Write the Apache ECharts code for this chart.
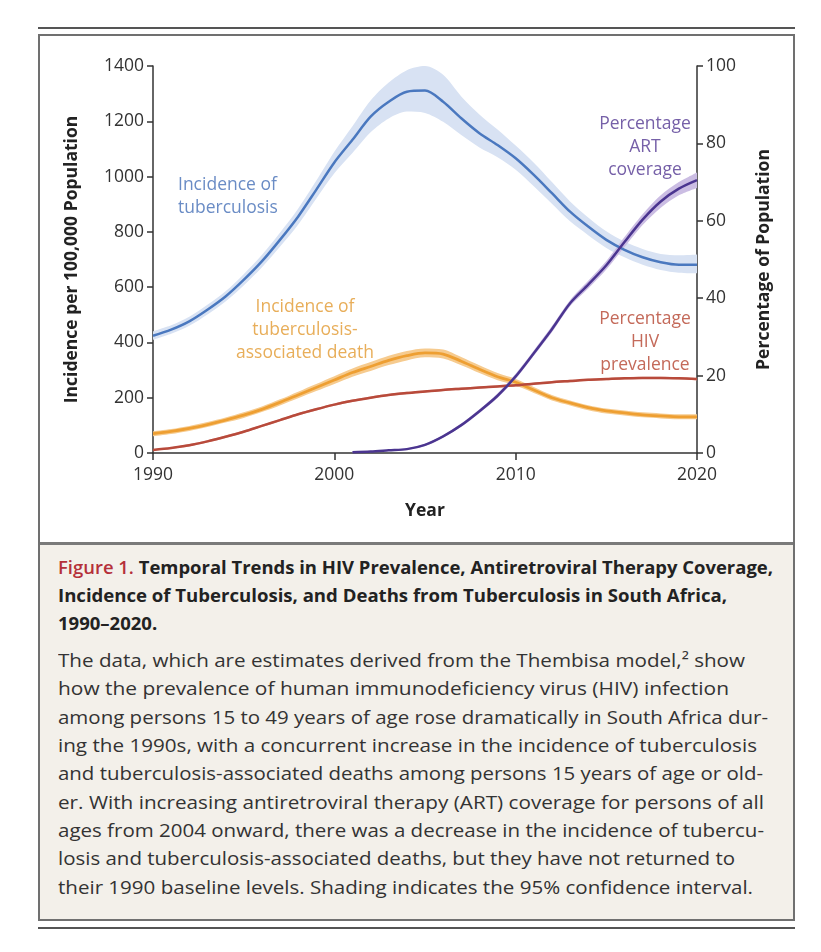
<!DOCTYPE html>
<html>
<head>
<meta charset="utf-8">
<script src="https://cdn.jsdelivr.net/npm/echarts/dist/echarts.min.js"></script>
<style>
  html, body { margin:0; padding:0; background:#fff; width:821px; height:952px; overflow:hidden; }
  .abs { position:absolute; }
  .capline { position:absolute; left:58px; white-space:nowrap; transform-origin:0 50%; font-family:"Open Sans","Noto Sans",sans-serif; }
  .title { font-size:18.5px; font-weight:700; color:#222; line-height:28px; }
  .title .fig { color:#b5303a; font-weight:600; }
  .body { font-size:18.5px; color:#333; line-height:28px; }
</style>
</head>
<body>
<div class="abs" style="left:38px;top:27px;width:757px;height:2px;background:#555;"></div>
<div class="abs" style="left:38px;top:34px;width:757px;height:887px;border:2px solid #707070;box-sizing:border-box;background:#fff;"></div>
<div class="abs" style="left:40px;top:542px;width:753px;height:377px;background:#f3f0ea;border-top:3px solid #7a7a7a;box-sizing:border-box;"></div>
<div class="abs" style="left:38px;top:927px;width:757px;height:2px;background:#555;"></div>
<div id="chart" class="abs" style="left:0;top:0;width:821px;height:543px;"></div>
<div id="caption"></div>
<script>
// ---------------- data ----------------
const years = ['1990','1991','1992','1993','1994','1995','1996','1997','1998','1999',
  '2000','2001','2002','2003','2004','2005','2006','2007','2008','2009',
  '2010','2011','2012','2013','2014','2015','2016','2017','2018','2019','2020'];

// Incidence of tuberculosis per 100,000 (left axis)
const tbIncidence = [424,446,476,518,566,626,693,771,855,952,1051,1133,1217,1271,1307,1311,1271,1211,1157,1114,1066,1006,940,873,819,771,735,708,690,681,681];
const tbUpper = [440,462,493,536,585,647,716,797,884,985,1090,1182,1275,1340,1385,1400,1368,1290,1225,1170,1112,1050,980,910,852,802,765,738,720,715,718];
const tbLower = [409,431,460,501,548,606,671,746,826,920,1012,1085,1160,1210,1235,1230,1198,1150,1105,1070,1025,965,902,838,788,742,708,681,662,652,650];

// Incidence of tuberculosis-associated death per 100,000 (left axis)
const tbDeath = [70,78,89,103,119,137,158,183,210,237,264,291,313,335,352,362,358,332,303,276,256,228,200,181,164,152,145,138,134,131,131];
const tbDeathUpper = [79,87,98,112,128,147,168,194,222,250,278,306,329,352,369,378,374,347,317,289,268,239,210,190,173,161,154,147,143,140,140];
const tbDeathLower = [61,69,80,94,110,127,148,172,198,224,250,276,297,318,335,346,342,317,289,263,244,217,190,172,155,143,136,129,125,122,122];

// Percentage HIV prevalence (right axis)
const hivPrev = [0.8,1.3,2.0,3.0,4.2,5.5,7.0,8.5,10.0,11.3,12.5,13.5,14.3,15.0,15.5,15.9,16.3,16.6,16.9,17.2,17.5,17.9,18.3,18.6,18.9,19.1,19.3,19.4,19.4,19.3,19.1];
const hivUpper = [1.0,1.5,2.3,3.3,4.5,5.8,7.3,8.8,10.3,11.6,12.8,13.8,14.6,15.3,15.8,16.2,16.6,16.9,17.2,17.5,17.8,18.2,18.6,18.9,19.2,19.4,19.6,19.7,19.7,19.6,19.4];
const hivLower = [0.6,1.1,1.7,2.7,3.9,5.2,6.7,8.2,9.7,11.0,12.2,13.2,14.0,14.7,15.2,15.6,16.0,16.3,16.6,16.9,17.2,17.6,18.0,18.3,18.6,18.8,19.0,19.1,19.1,19.0,18.8];

// Percentage ART coverage (right axis), from 2001
const artCov = ['-','-','-','-','-','-','-','-','-','-','-',0.2,0.4,0.7,1.0,2.1,4.3,7.2,10.8,14.8,19.8,25.8,32.0,38.7,43.5,48.5,54.5,60.3,65.0,68.3,70.5];
const artUpper = ['-','-','-','-','-','-','-','-','-','-','-',0.3,0.5,0.8,1.2,2.4,4.6,7.6,11.3,15.4,20.5,26.5,32.8,39.5,44.5,49.6,55.8,61.7,66.6,70.0,72.5];
const artLower = ['-','-','-','-','-','-','-','-','-','-','-',0.1,0.3,0.6,0.8,1.8,4.0,6.8,10.3,14.2,19.1,25.1,31.2,37.9,42.5,47.4,53.2,58.9,63.4,66.6,68.5];

const leftTicks = [0,200,400,600,800,1000,1200,1400];
const rightTicks = [0,20,40,60,80,100];
const xTickYears = ['1990','2000','2010','2020'];

const captionTitle = [
  ['Figure 1.', ' Temporal Trends in HIV Prevalence, Antiretroviral Therapy Coverage,'],
  ['', 'Incidence of Tuberculosis, and Deaths from Tuberculosis in South Africa,'],
  ['', '1990\u20132020.']
];
const captionBody = [
  'The data, which are estimates derived from the Thembisa model,\u00b2 show',
  'how the prevalence of human immunodeficiency virus (HIV) infection',
  'among persons 15 to 49 years of age rose dramatically in South Africa dur-',
  'ing the 1990s, with a concurrent increase in the incidence of tuberculosis',
  'and tuberculosis-associated deaths among persons 15 years of age or old-',
  'er. With increasing antiretroviral therapy (ART) coverage for persons of all',
  'ages from 2004 onward, there was a decrease in the incidence of tubercu-',
  'losis and tuberculosis-associated deaths, but they have not returned to',
  'their 1990 baseline levels. Shading indicates the 95% confidence interval.'
];

// ---------------- caption layout ----------------
const titleCenters = [567, 595, 623];
const titleEnds = [773, 727, null];
const bodyCenters = [660, 688, 717, 745, 773, 802, 830, 858, 887];
const bodyEnds = [745, 729, 768, 757, 763, 764, 764, 735, 753];
const cap = document.getElementById('caption');
const titleEls = captionTitle.map((t, i) => {
  const d = document.createElement('div');
  d.className = 'capline title';
  d.style.top = (titleCenters[i] - 14) + 'px';
  if (t[0]) { const s = document.createElement('span'); s.className = 'fig'; s.textContent = t[0]; d.appendChild(s); }
  d.appendChild(document.createTextNode(t[1]));
  cap.appendChild(d);
  return d;
});
const bodyEls = captionBody.map((t, i) => {
  const d = document.createElement('div');
  d.className = 'capline body';
  d.style.top = (bodyCenters[i] - 14) + 'px';
  d.textContent = t;
  cap.appendChild(d);
  return d;
});
function fitCaption() {
  const scales = [];
  titleEls.forEach((el, i) => {
    if (titleEnds[i]) {
      const s = (titleEnds[i] - 58) / el.getBoundingClientRect().width;
      scales.push(s);
      el.style.transform = 'scaleX(' + s + ')';
    }
  });
  const avg = scales.reduce((a, b) => a + b, 0) / scales.length;
  titleEls.forEach((el, i) => { if (!titleEnds[i]) el.style.transform = 'scaleX(' + avg + ')'; });
  bodyEls.forEach((el, i) => {
    const s = (bodyEnds[i] - 58) / el.getBoundingClientRect().width;
    el.style.transform = 'scaleX(' + s + ')';
  });
}
fitCaption();
if (document.fonts && document.fonts.ready) document.fonts.ready.then(() => {
  titleEls.concat(bodyEls).forEach(el => el.style.transform = 'none');
  fitCaption();
});

// ---------------- chart ----------------
const FONT = '"Open Sans","Noto Sans",sans-serif';
const chart = echarts.init(document.getElementById('chart'), null, { renderer: 'canvas' });
const diff = (u, l) => u.map((v, i) => (v === '-' || l[i] === '-') ? '-' : +(v - l[i]).toFixed(2));

function band(name, lower, upper, yIdx, color, stack) {
  return [
    { name: name + ' lower', type: 'line', yAxisIndex: yIdx, stack: stack, data: lower, smooth: 0.3,
      symbol: 'none', lineStyle: { width: 0, opacity: 0 }, silent: true },
    { name: name + ' band', type: 'line', yAxisIndex: yIdx, stack: stack, data: diff(upper, lower), smooth: 0.3,
      symbol: 'none', lineStyle: { width: 0, opacity: 0 }, areaStyle: { color: color, opacity: 1 }, silent: true }
  ];
}
function line(name, data, yIdx, color, w) {
  return { name: name, type: 'line', yAxisIndex: yIdx, data: data, smooth: 0.3, symbol: 'none',
    lineStyle: { color: color, width: w }, silent: true };
}
const axisCommon = {
  axisLine: { show: true, lineStyle: { color: '#333', width: 1.5 } },
  axisTick: { show: true, length: 6, lineStyle: { color: '#333', width: 1.5 } },
  splitLine: { show: false }
};
const labelStyle = (color, align) => ({ fill: color, font: '17.5px ' + FONT, textAlign: align, textVerticalAlign: 'top', lineHeight: 23 });

chart.setOption({
  animation: false,
  backgroundColor: 'transparent',
  grid: { left: 153, right: 124, top: 66, bottom: 90 },
  xAxis: {
    type: 'category', data: years, boundaryGap: false,
    name: 'Year', nameLocation: 'middle', nameGap: 49,
    nameTextStyle: { fontSize: 17.5, fontWeight: 'bold', color: '#222', fontFamily: FONT },
    axisLine: axisCommon.axisLine,
    axisTick: { show: true, length: 7, lineStyle: { color: '#333', width: 1.5 }, interval: (i, v) => xTickYears.indexOf(v) >= 0 },
    axisLabel: { color: '#333', fontSize: 17.5, fontFamily: FONT, margin: 13, interval: (i, v) => xTickYears.indexOf(v) >= 0 },
    splitLine: { show: false }
  },
  yAxis: [
    Object.assign({}, axisCommon, {
      type: 'value', min: leftTicks[0], max: leftTicks[leftTicks.length - 1], interval: leftTicks[1] - leftTicks[0],
      position: 'left',
      name: 'Incidence per 100,000 Population', nameLocation: 'middle', nameGap: 72, nameRotate: 90,
      nameTextStyle: { fontSize: 17.5, fontWeight: 'bold', color: '#222', fontFamily: FONT },
      axisLabel: { color: '#333', fontSize: 17.5, fontFamily: FONT, margin: 9, formatter: v => String(v) }
    }),
    Object.assign({}, axisCommon, {
      type: 'value', min: rightTicks[0], max: rightTicks[rightTicks.length - 1], interval: rightTicks[1] - rightTicks[0],
      position: 'right',
      name: 'Percentage of Population', nameLocation: 'middle', nameGap: 58, nameRotate: 90,
      nameTextStyle: { fontSize: 17.5, fontWeight: 'bold', color: '#222', fontFamily: FONT },
      axisLabel: { color: '#333', fontSize: 17.5, fontFamily: FONT, margin: 9, formatter: v => String(v) }
    })
  ],
  series: [].concat(
    band('tb', tbLower, tbUpper, 0, '#d8e2f3', 'tbBand'),
    [line('Incidence of tuberculosis', tbIncidence, 0, '#4a78bf', 2.5)],
    band('death', tbDeathLower, tbDeathUpper, 0, '#f6cb8f', 'deathBand'),
    [line('Incidence of tuberculosis-associated death', tbDeath, 0, '#ee9f32', 2.8)],
    band('hiv', hivLower, hivUpper, 1, '#e2a89c', 'hivBand'),
    [line('Percentage HIV prevalence', hivPrev, 1, '#b84a3b', 2.5)],
    band('art', artLower, artUpper, 1, '#cbbde3', 'artBand'),
    [line('Percentage ART coverage', artCov, 1, '#4b3590', 2.5)]
  ),
  graphic: [
    { type: 'text', left: 178, top: 174, style: Object.assign({ text: 'Incidence of\ntuberculosis' }, labelStyle('#6a8cc5', 'left')) },
    { type: 'text', x: 305, y: 296, style: Object.assign({ text: 'Incidence of\ntuberculosis-\nassociated death' }, labelStyle('#e8ae5a', 'center')) },
    { type: 'text', x: 645, y: 113, style: Object.assign({ text: 'Percentage\nART\ncoverage' }, labelStyle('#7660a8', 'center')) },
    { type: 'text', x: 645, y: 308, style: Object.assign({ text: 'Percentage\nHIV\nprevalence' }, labelStyle('#c46a5a', 'center')) }
  ]
});
</script>
</body>
</html>
